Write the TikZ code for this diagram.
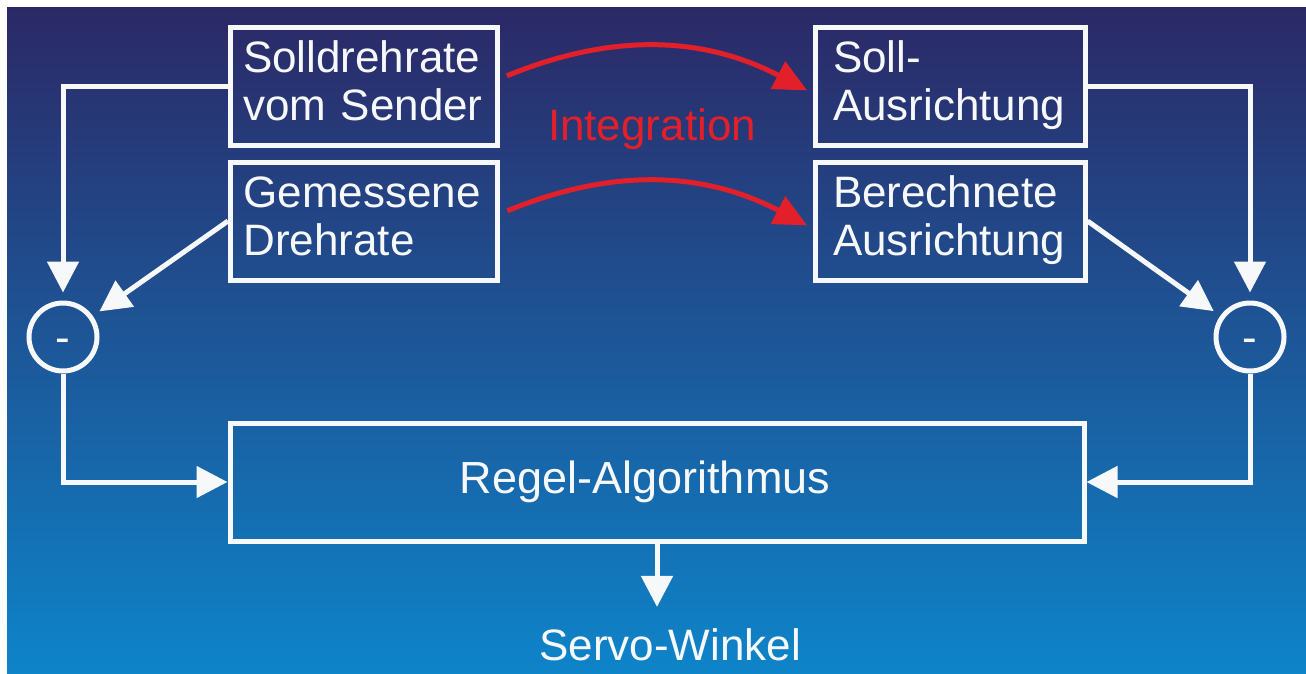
\documentclass[tikz,border=0pt]{standalone}
\usepackage{fontspec}
\setmainfont{Liberation Sans}
\usetikzlibrary{arrows.meta}
\definecolor{bgtop}{HTML}{2C2866}
\definecolor{bgmid}{HTML}{1B58A4}
\definecolor{bgbot}{HTML}{0E84C9}
\definecolor{intred}{HTML}{E3202A}
\definecolor{linewhite}{HTML}{F6F8FA}
\begin{document}
\begin{tikzpicture}[x=1pt,y=-1pt,
  every node/.style={font=\fontsize{44pt}{48pt}\selectfont, text=linewhite},
  block/.style={draw=linewhite, line width=5pt, minimum height=118pt,
    inner ysep=0pt, align=left, text height=31pt, text depth=59pt},
  leftblock/.style={block, inner xsep=13pt, text width=241pt, minimum width=267pt},
  rightblock/.style={block, inner xsep=18pt, text width=234pt, minimum width=270pt},
  summer/.style={circle, draw=linewhite, line width=5pt, minimum size=68pt,
    inner sep=0pt, text height=30pt, text depth=0pt},
  wire/.style={draw=linewhite, line width=5pt},
  arr/.style={wire, -{Triangle[width=31pt,length=31pt]}},
  redarr/.style={draw=intred, line width=5pt, -{Triangle[width=30pt,length=33pt]},
    shorten <=8pt, shorten >=6pt}
]
% background with thin white margin on top and left
\useasboundingbox (0,0) rectangle (1306,673);
\fill[white] (0,0) rectangle (1306,673);
\shade[top color=bgtop, middle color=bgmid, bottom color=bgbot] (7,7) rectangle (1306,673);

% input and orientation blocks
\node[leftblock]  (b1) at (363.5,86) {Solldrehrate\\vom Sender};
\node[leftblock]  (b2) at (364,221)  {Gemessene\\Drehrate};
\node[rightblock] (b3) at (950,86)   {Soll-\\Ausrichtung};
\node[rightblock] (b4) at (950,221)  {Berechnete\\Ausrichtung};

% controller
\node[draw=linewhite, line width=5pt, minimum width=854pt, minimum height=118pt,
  inner sep=0pt, font=\fontsize{45pt}{48pt}\selectfont] (regel) at (657,482)
  {Regel-Algorithmus\kern24pt};

% difference points
\node[summer] (cl) at (63,337)   {-};
\node[summer] (cr) at (1250,337) {-};

% output
\node[anchor=base, inner sep=0pt] (servo) at (670,660) {Servo-Winkel};

% integration label and arrows
\node[anchor=base, inner sep=0pt, text=intred] (integ) at (652,140) {Integration};
\draw[redarr] (b1.3) to[bend left=25] (b3.183);
\draw[redarr] (b2.3) to[bend left=25] (b4.183);

% rate loop (left)
\draw[arr, shorten >=8pt] (b1.west) -| (cl.north);
\draw[arr, shorten >=8pt] (b2.west) -- (cl);
\draw[arr] (cl.south) |- (regel.west);

% attitude loop (right)
\draw[arr, shorten >=8pt] (b3.east) -| (cr.north);
\draw[arr, shorten >=8pt] (b4.east) -- (cr);
\draw[arr] (cr.south) |- (regel.east);

% controller output
\draw[arr, shorten >=21pt] (regel.south) -- (regel.south |- servo.north);
\end{tikzpicture}
\end{document}
